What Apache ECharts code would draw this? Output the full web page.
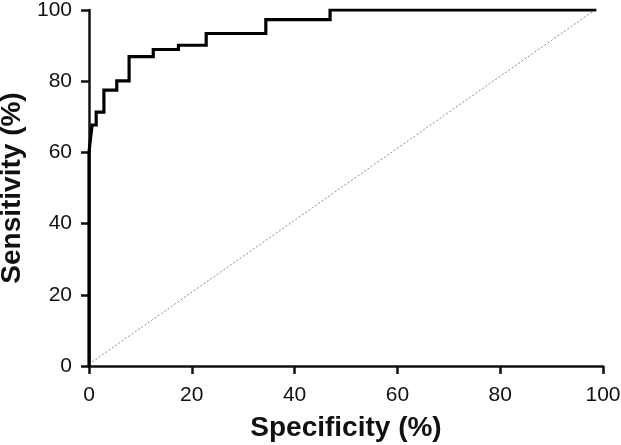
<!DOCTYPE html>
<html>
<head>
<meta charset="utf-8">
<script src="https://cdn.jsdelivr.net/npm/echarts@6/dist/echarts.min.js"></script>
<style>
html,body{margin:0;padding:0;background:#fff;}
#chart{width:621px;height:445px;}
</style>
</head>
<body>
<div id="chart"></div>
<script>
// ROC curve vertices (specificity %, sensitivity %)
var specificity = [0, 0, 0.3, 0.3, 0.6, 0.6, 1.4, 1.4, 2.9, 2.9, 5.4, 5.4, 7.8, 7.8, 12.5, 12.5, 17.4, 17.4, 22.8, 22.8, 34.4, 34.4, 46.9, 46.9, 98.4];
var sensitivity = [0, 60, 60, 64, 64, 67.7, 67.7, 71.3, 71.3, 77.5, 77.5, 80.1, 80.1, 86.9, 86.9, 88.9, 88.9, 90.1, 90.1, 93.4, 93.4, 97.3, 97.3, 100, 100];
// reference diagonal
var diagX = [0, 98.4];
var diagY = [0.5, 100];
var tickValues = [0, 20, 40, 60, 80, 100];

var rocData = specificity.map(function (x, i) { return [x, sensitivity[i]]; });
var diagData = diagX.map(function (x, i) { return [x, diagY[i]]; });

var font = '"Liberation Sans", Arial, Helvetica, sans-serif';
var chart = echarts.init(document.getElementById('chart'), null, {renderer: 'canvas'});
chart.setOption({
  animation: false,
  backgroundColor: '#fff',
  grid: {left: 89, right: 18, top: 10, bottom: 79, containLabel: false, outerBoundsMode: 'none'},
  xAxis: {
    type: 'value', min: 0, max: 100, interval: 20,
    name: 'Specificity (%)', nameLocation: 'middle', nameGap: 48,
    nameTextStyle: {fontFamily: font, fontSize: 28, fontWeight: 'bold', color: '#111'},
    axisLine: {show: true, onZero: false, lineStyle: {color: '#111', width: 2.5}},
    axisTick: {show: true, inside: false, length: 8, lineStyle: {color: '#111', width: 2.5}},
    axisLabel: {fontFamily: font, fontSize: 21, color: '#111', margin: 19},
    splitLine: {show: false}
  },
  yAxis: {
    type: 'value', min: 0, max: 100, interval: 20,
    name: 'Sensitivity (%)', nameLocation: 'middle', nameGap: 62,
    nameTextStyle: {fontFamily: font, fontSize: 28, fontWeight: 'bold', color: '#111'},
    axisLine: {show: true, onZero: false, lineStyle: {color: '#111', width: 2.5}},
    axisTick: {show: true, inside: false, length: 8, lineStyle: {color: '#111', width: 2.5}},
    axisLabel: {fontFamily: font, fontSize: 21, color: '#111', margin: 17},
    splitLine: {show: false}
  },
  series: [
    {
      type: 'line', data: diagData, symbol: 'none', silent: true,
      lineStyle: {color: '#888', width: 1, type: [2, 2]}
    },
    {
      type: 'line', data: rocData, symbol: 'none', silent: true,
      lineStyle: {color: '#000', width: 3.2, join: 'miter', cap: 'square'}
    }
  ]
});
</script>
</body>
</html>
